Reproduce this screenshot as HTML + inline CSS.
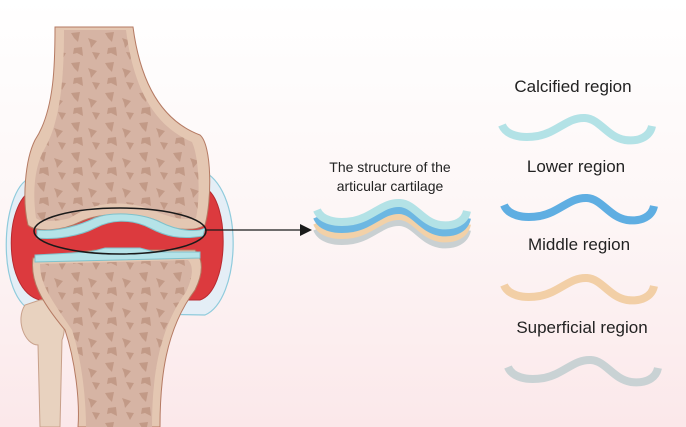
<!DOCTYPE html>
<html><head><style>
html,body{margin:0;padding:0;width:686px;height:427px;overflow:hidden}
body{background:linear-gradient(#ffffff 0%,#fdf6f6 50%,#fbe8ea 100%);font-family:"Liberation Sans",sans-serif}
</style></head><body>
<svg width="686" height="427" viewBox="0 0 686 427" xmlns="http://www.w3.org/2000/svg">
<defs>
<pattern id="sp" width="34" height="30" patternUnits="userSpaceOnUse">
<path d="M3 3 l9 -1 l-2 10 l-4 -4 z M20 8 l9 3 l-6 7 l-1 -5z M6 18 l8 -1 l1 9 l-6 -3 l-4 1z M24 22 l8 1 l-4 7z" fill="#c29a87"/>
</pattern>
<clipPath id="ct"><path d="M40 264 C40 285 52 300 72 330 C82 360 86 400 86 427 L152 427 C152 380 158 330 186 292 C194 275 193 265 188 260 Z"/></clipPath>
<clipPath id="cf"><path d="M64 30 L126 30 C133 85 152 125 192 142 C200 160 200 200 196 218 C175 222 160 212 140 206 C110 200 90 205 70 218 C55 222 40 222 36 218 C32 190 35 165 45 148 C62 118 64 70 64 30 Z"/></clipPath>
<path id="w" d="M0 -3 C4 7 18 11 36 8 C56 4 66 -11 83 -10 C98 -9 105 9 123 12 C138 14 148 8 150 -2"/>
</defs>
<!-- capsule -->
<path d="M30 178 C0 190 -5 300 35 312 L205 315 C240 300 245 195 205 172 Z" fill="#e4eef6" stroke="#8fcbdc" stroke-width="1.2"/>
<path d="M35 190 C5 195 0 290 40 300 L200 300 C230 290 230 200 205 188 Z" fill="#dc3a3e" stroke="#b82a30"/>
<!-- fibula -->
<path d="M25 305 C15 320 25 345 38 345 L40 427 L60 427 L62 340 C70 320 55 298 40 300 Z" fill="#e8d2bf" stroke="#c8a08a"/>
<!-- tibia -->
<path d="M33 258 C30 280 40 300 65 330 C75 360 80 400 78 427 L160 427 C160 380 165 330 195 290 C205 270 202 258 195 250 L140 250 C130 255 105 255 95 250 Z" fill="#e4c7b2" stroke="#b57a63"/>
<g clip-path="url(#ct)"><rect x="30" y="250" width="170" height="177" fill="#d6b4a4"/><rect x="30" y="250" width="170" height="177" fill="url(#sp)"/></g>
<!-- femur -->
<path d="M55 27 L133 27 C140 80 160 120 200 135 C212 145 212 200 205 225 C195 232 170 230 160 222 C140 212 100 212 80 222 C60 232 35 232 28 225 C22 200 25 160 35 140 C55 110 55 60 55 27 Z" fill="#e4c7b2" stroke="#b57a63"/>
<g clip-path="url(#cf)"><rect x="30" y="25" width="175" height="200" fill="#d6b4a4"/><rect x="30" y="25" width="175" height="200" fill="url(#sp)"/></g>
<!-- cartilage -->
<path d="M37 230 C60 232 80 225 95 218 C110 212 140 212 160 222 C180 232 198 232 205 228 L203 236 C180 240 165 236 150 228 C130 218 110 220 95 228 C80 236 55 240 37 238 Z" fill="#b5e3e8" stroke="#7fc2cc"/>
<path d="M35 255 L90 252 L105 248 L140 248 L155 252 L200 252 L200 258 L35 262 Z" fill="#b5e3e8" stroke="#7fc2cc"/>
<!-- ellipse + arrow -->
<ellipse cx="120" cy="231" rx="86" ry="23" fill="none" stroke="#1a1a1a" stroke-width="1.5"/>
<line x1="205" y1="230" x2="302" y2="230" stroke="#1a1a1a" stroke-width="1.3"/>
<path d="M312 230 L300 224 L300 236 Z" fill="#1a1a1a"/>
<!-- center text -->
<text x="390" y="172" font-size="14" text-anchor="middle" fill="#222">The structure of the</text>
<text x="390" y="191" font-size="14" text-anchor="middle" fill="#222">articular cartilage</text>
<!-- stacked layers -->
<g fill="none" stroke-width="8">
<use href="#w" transform="translate(317 232)" stroke="#c9d0d2"/>
<use href="#w" transform="translate(317 226)" stroke="#f2d1a8"/>
<use href="#w" transform="translate(317 220)" stroke="#6db7e2"/>
<use href="#w" transform="translate(317 213)" stroke="#b3e2e6"/>
</g>
<!-- right labels -->
<g font-size="17" text-anchor="middle" fill="#222">
<text x="573" y="92">Calcified region</text>
<text x="576" y="172">Lower region</text>
<text x="579" y="250">Middle region</text>
<text x="582" y="333">Superficial region</text>
</g>
<g fill="none" stroke-width="8">
<use href="#w" transform="translate(502 128)" stroke="#b3e2e6"/>
<use href="#w" transform="translate(504 208)" stroke="#5faee2"/>
<use href="#w" transform="translate(504 288)" stroke="#f2cfa6"/>
<use href="#w" transform="translate(508 370)" stroke="#c9d2d4"/>
</g>
</svg>
</body></html>
